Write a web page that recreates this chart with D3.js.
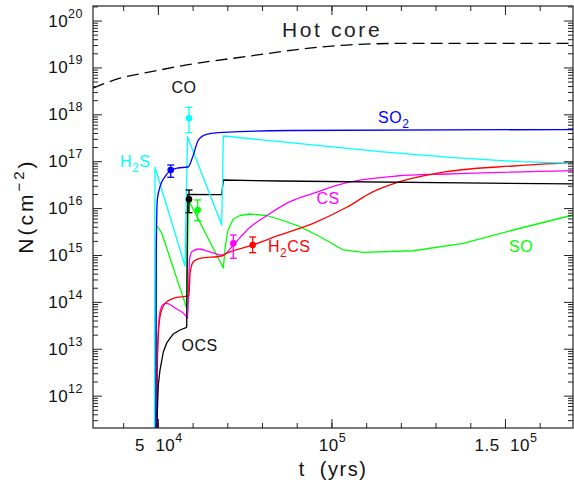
<!DOCTYPE html>
<html><head><meta charset="utf-8">
<script src="https://cdn.jsdelivr.net/npm/d3@7"></script>
<style>
body{margin:0;background:#fff;}
svg text{font-family:"Liberation Sans",Arial,Helvetica,sans-serif;}
</style></head>
<body><svg id="chart" width="574" height="490"></svg>
<script>
// ---------- data (t in years, N in cm^-2) ----------
const xMajorTicks = [5e4, 1e5, 1.5e5];
const xMajorLabels = [["5  10","4"],["10","5"],["1.5  10","5"]];
const xMinorTicks = [4e4,5e4,6e4,7e4,8e4,9e4,1e5,1.1e5,1.2e5,1.3e5,1.4e5,1.5e5,1.6e5];
const yMajorExp = [12,13,14,15,16,17,18,19,20];

const hotT = [31300,39100,47700,58300,76500,90900,104400,119800,169600];
const hotN = [3.6e18,5.9e18,8.0e18,1.13e19,1.75e19,2.45e19,3.0e19,3.25e19,3.27e19];

const so2T = [49365,49538,49826,50604,52045,53687,55791,58672,60199,61640,64060,68843,88061,169600];
const so2N = [1e10,1.28e15,1.49e16,2.86e16,4.67e16,6.34e16,7.16e16,7.52e16,1.36e17,2.83e17,3.75e17,4.13e17,4.52e17,4.74e17];

const h2sT = [48962,49164,57808,58528,68382,68843,85179,113992,134161,154329,169600];
const h2sN = [1e10,7.41e16,5.82e14,3.33e17,4.36e15,3.45e17,2.61e17,1.60e17,1.21e17,9.75e16,9.02e16];

const ocsT = [49682,49740,50115,50604,51555,52535,54437,56367,58297,58528,68382,68843,85179,169600];
const ocsN = [1e10,3.03e11,1.69e12,3.52e12,8.53e12,1.33e13,2.07e13,2.51e13,2.87e13,1.95e16,1.93e16,3.97e16,3.78e16,3.27e16];

const h2csT = [49654,49826,50604,52045,54437,58960,59248,60199,62129,68382,69822,76536,85179,94774,104397,112062,118804,133210,152399,169600];
const h2csN = [1e10,5.75e12,4.83e13,9.31e13,1.19e14,1.36e14,4.06e14,7.19e14,8.49e14,9.51e14,1.09e15,1.56e15,2.67e15,4.74e15,1.04e16,2.24e16,3.48e16,5.97e16,7.91e16,9.29e16];

const csT = [49654,49884,50604,51469,52535,54926,58297,58585,59104,59738,61640,64060,68382,69333,71724,76536,81347,88061,94774,104397,118804,133210,169600];
const csN = [1e10,9.40e12,6.08e13,8.79e13,9.31e13,7.40e13,4.83e13,4.47e13,7.82e14,1.16e15,1.34e15,1.23e15,1.00e15,1.05e15,1.63e15,3.89e15,6.89e15,1.37e16,2.07e16,3.48e16,4.83e16,5.33e16,6.27e16];

const soT = [49452,49596,50172,51094,58297,58816,68843,69477,70197,71724,73654,76536,81347,85179,90942,96704,103418,109180,123587,137993,152399,169600];
const soN = [1e10,4.15e15,3.76e15,2.94e15,7.29e13,1.49e16,5.27e14,1.63e15,3.41e15,5.85e15,6.95e15,7.48e15,6.95e15,5.71e15,4.01e15,2.45e15,1.28e15,1.14e15,1.23e15,1.77e15,3.41e15,7.13e15];

// observations
const obsName = ["SO2","H2S","OCS","SO","CS","H2CS"];
const obsT  = [53687,58960,58960,61467,71724,77313];
const obsN  = [6.49e16,8.22e17,1.54e16,9.10e15,1.77e15,1.63e15];
const obsLo = [4.54e16,4.05e17,7.98e15,5.38e15,8.49e14,1.12e15];
const obsHi = [8.30e16,1.41e18,2.43e16,1.49e16,2.67e15,2.42e15];

// ---------- drawing ----------
const L = 93, R = 573, T = 6, B = 428;
const svg = d3.select("#chart");
const x = d3.scaleLinear().domain([31300,169600]).range([L,R]);
const y = d3.scaleLog().domain([Math.pow(10,11.31), Math.pow(10,20.31)]).range([B,T]);

const colors = {SO2:"#0000ff",H2S:"#00ffff",OCS:"#000000",SO:"#00ff00",CS:"#ff00ff",H2CS:"#ff0000"};

svg.append("defs").append("clipPath").attr("id","clip")
  .append("rect").attr("x",L).attr("y",T).attr("width",R-L).attr("height",B-T);

const plot = svg.append("g").attr("clip-path","url(#clip)");

function draw(ts, ns, color, curve, dash){
  const pts = ts.map((t,i)=>[t, ns[i]]);
  const line = d3.line().x(d=>x(d[0])).y(d=>y(d[1])).curve(curve);
  const p = plot.append("path").datum(pts).attr("d",line)
    .attr("fill","none").attr("stroke",color).attr("stroke-width",1.3)
    .attr("stroke-linejoin","round");
  if(dash) p.attr("stroke-dasharray",dash);
}
draw(hotT, hotN, "#000", d3.curveMonotoneX, "12,6");
draw(soT, soN, colors.SO, d3.curveLinear);
draw(csT, csN, colors.CS, d3.curveMonotoneX);
draw(h2csT, h2csN, colors.H2CS, d3.curveMonotoneX);
draw(ocsT, ocsN, colors.OCS, d3.curveLinear);
draw(h2sT, h2sN, colors.H2S, d3.curveLinear);
draw(so2T, so2N, colors.SO2, d3.curveMonotoneX);

// observations with error bars
obsName.forEach((nm,i)=>{
  const c = colors[nm];
  const g = svg.append("g").attr("stroke",c).attr("stroke-width",1.3);
  const cx = x(obsT[i]);
  g.append("line").attr("x1",cx).attr("x2",cx).attr("y1",y(obsLo[i])).attr("y2",y(obsHi[i]));
  g.append("line").attr("x1",cx-3.5).attr("x2",cx+3.5).attr("y1",y(obsLo[i])).attr("y2",y(obsLo[i]));
  g.append("line").attr("x1",cx-3.5).attr("x2",cx+3.5).attr("y1",y(obsHi[i])).attr("y2",y(obsHi[i]));
  svg.append("circle").attr("cx",cx).attr("cy",y(obsN[i])).attr("r",3.3).attr("fill",c);
});

// ---------- axes ----------
const axisColor = "#222";
function styleAxis(g){
  g.select(".domain").remove();
  g.selectAll("line").attr("stroke",axisColor).attr("stroke-width",1);
  g.selectAll("text").remove();
}
svg.append("g").attr("transform",`translate(0,${B})`)
  .call(d3.axisBottom(x).tickValues(xMinorTicks).tickSize(-5)).call(styleAxis);
svg.append("g").attr("transform",`translate(0,${B})`)
  .call(d3.axisBottom(x).tickValues(xMajorTicks).tickSize(-9)).call(styleAxis);
svg.append("g").attr("transform",`translate(0,${T})`)
  .call(d3.axisTop(x).tickValues(xMinorTicks).tickSize(-5)).call(styleAxis);
svg.append("g").attr("transform",`translate(0,${T})`)
  .call(d3.axisTop(x).tickValues(xMajorTicks).tickSize(-9)).call(styleAxis);

const yMinor = [];
for(let e=11;e<=20;e++){ for(let k=2;k<=9;k++){ const v=k*Math.pow(10,e); if(v>=y.domain()[0] && v<=y.domain()[1]) yMinor.push(v);} }
const yMajor = yMajorExp.map(e=>Math.pow(10,e));
svg.append("g").attr("transform",`translate(${L},0)`)
  .call(d3.axisLeft(y).tickValues(yMinor).tickSize(-5)).call(styleAxis);
svg.append("g").attr("transform",`translate(${L},0)`)
  .call(d3.axisLeft(y).tickValues(yMajor).tickSize(-9)).call(styleAxis);
svg.append("g").attr("transform",`translate(${R},0)`)
  .call(d3.axisRight(y).tickValues(yMinor).tickSize(-5)).call(styleAxis);
svg.append("g").attr("transform",`translate(${R},0)`)
  .call(d3.axisRight(y).tickValues(yMajor).tickSize(-9)).call(styleAxis);

svg.append("rect").attr("x",L).attr("y",T).attr("width",R-L).attr("height",B-T)
  .attr("fill","none").attr("stroke",axisColor).attr("stroke-width",1.2);

// y tick labels
yMajorExp.forEach(e=>{
  const t = svg.append("text").attr("x",83).attr("y",y(Math.pow(10,e))+6)
    .attr("text-anchor","end").attr("fill","#111").attr("font-size",17).attr("letter-spacing",0.5);
  t.append("tspan").text("10");
  t.append("tspan").attr("dy",-9).attr("font-size",12.5).text(String(e));
});
// x tick labels
xMajorTicks.forEach((v,i)=>{
  const t = svg.append("text").attr("x",x(v)+1).attr("y",451)
    .attr("text-anchor","middle").attr("fill","#111").attr("font-size",17)
    .attr("letter-spacing",0.5).attr("xml:space","preserve");
  t.append("tspan").text(xMajorLabels[i][0]);
  t.append("tspan").attr("dy",-9).attr("font-size",12.5).text(xMajorLabels[i][1]);
});

// axis titles
svg.append("text").attr("x",333).attr("y",476).attr("text-anchor","middle")
  .attr("font-size",20).attr("fill","#111").attr("letter-spacing",1.5)
  .attr("xml:space","preserve").text("t  (yrs)");
const yt = svg.append("text").attr("transform","translate(33,206) rotate(-90)")
  .attr("text-anchor","middle").attr("font-size",21).attr("fill","#111").attr("letter-spacing",3);
yt.append("tspan").text("N(cm");
yt.append("tspan").attr("dy",-9).attr("font-size",15).text("−2");
yt.append("tspan").attr("dy",9).text(")");

// annotations
function label(txt, sub, rest, xx, yy, color, size, ls){
  const t = svg.append("text").attr("x",xx).attr("y",yy).attr("fill",color)
    .attr("font-size",size).attr("letter-spacing",ls||0.5);
  t.append("tspan").text(txt);
  if(sub){
    t.append("tspan").attr("dy",5).attr("font-size",size*0.75).text(sub);
    if(rest) t.append("tspan").attr("dy",-5).text(rest);
  }
}
label("Hot core",null,null,282,37,"#222",21,2.6);
label("CO",null,null,171.5,93,"#111",16);
label("SO",'2',null,378,123,colors.SO2,16);
label("H",'2',"S",120,167,colors.H2S,16);
label("CS",null,null,316.5,204,colors.CS,16);
label("H",'2',"CS",268,252,colors.H2CS,16);
label("SO",null,null,509,252,colors.SO,16);
label("OCS",null,null,181.5,351,"#111",16);
</script>
</body></html>
